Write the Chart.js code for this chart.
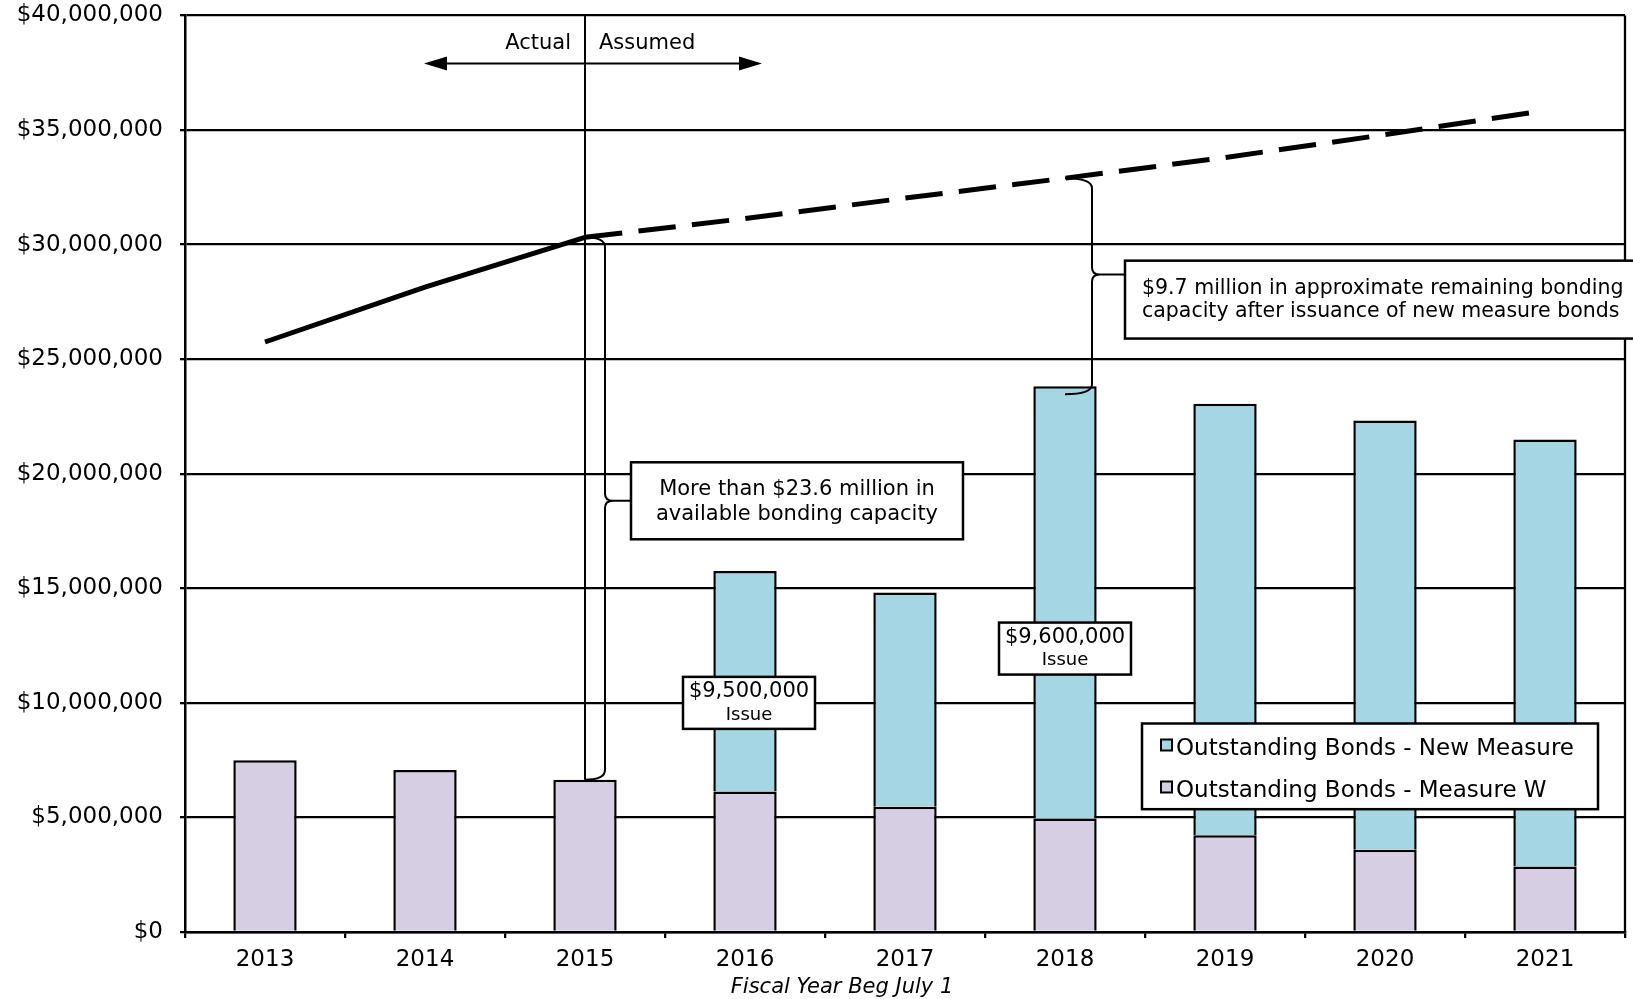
<!DOCTYPE html>
<html>
<head>
<meta charset="utf-8">
<script src="https://cdn.jsdelivr.net/npm/chart.js@4.4.1/dist/chart.umd.min.js"></script>
<style>
  html, body { margin: 0; padding: 0; background: #fff; }
</style>
</head>
<body>
<canvas id="chart" width="1633" height="999"></canvas>
<script>
// fiscal years and values (dollars)
const years = ['2013', '2014', '2015', '2016', '2017', '2018', '2019', '2020', '2021'];
const measureW = [7500000, 7070000, 6650000, 6130000, 5470000, 4950000, 4220000, 3590000, 2860000];
const newMeasure = [null, null, null, 9630000, 9350000, 18870000, 18830000, 18730000, 18640000];
const bondLimit = [25750000, 28150000, 30320000, 31140000, 32030000, 32900000, 33800000, 34800000, 35850000];
const issues = [['2016', '$9,500,000'], ['2018', '$9,600,000']];

const lavender = '#D6CEE2';
const blue = '#A5D6E3';
const FONT = "'DejaVu Sans', sans-serif";

function textBox(ctx, left, top, w, h) {
    ctx.fillStyle = '#fff';
    ctx.fillRect(left, top, w, h);
    ctx.lineWidth = 2.5;
    ctx.strokeStyle = '#000';
    ctx.strokeRect(left, top, w, h);
    ctx.fillStyle = '#000';
}

function brace(ctx, x0, yTop, xb, yBot, yMid, xTip) {
    ctx.beginPath();
    ctx.moveTo(x0, yTop);
    ctx.quadraticCurveTo(xb, yTop, xb, yTop + 10);
    ctx.lineTo(xb, yMid - 7);
    ctx.quadraticCurveTo(xb, yMid, xb + 8, yMid);
    ctx.lineTo(xTip, yMid);
    ctx.moveTo(xb + 8, yMid);
    ctx.quadraticCurveTo(xb, yMid, xb, yMid + 7);
    ctx.lineTo(xb, yBot - 10);
    ctx.quadraticCurveTo(xb, yBot, x0, yBot);
    ctx.stroke();
}

const annotations = {
    id: 'annotations',
    afterDatasetsDraw(chart) {
        const { ctx, chartArea: a, scales: { x, y } } = chart;
        ctx.save();
        ctx.strokeStyle = '#000';
        ctx.fillStyle = '#000';

        // right edge of plot
        ctx.lineWidth = 2.3;
        ctx.beginPath();
        ctx.moveTo(a.right, a.top);
        ctx.lineTo(a.right, a.bottom);
        ctx.stroke();

        // actual / assumed divider
        const x15 = x.getPixelForValue(2);
        const bar15 = y.getPixelForValue(measureW[2]);
        ctx.lineWidth = 2;
        ctx.beginPath();
        ctx.moveTo(x15, a.top);
        ctx.lineTo(x15, bar15);
        ctx.stroke();

        const arrowY = y.getPixelForValue(37900000);
        const xl = x.getPixelForValue(1) - 1;
        const xr = x.getPixelForValue(3) + 17;
        ctx.beginPath();
        ctx.moveTo(xl + 20, arrowY);
        ctx.lineTo(xr - 20, arrowY);
        ctx.stroke();
        ctx.beginPath();
        ctx.moveTo(xl, arrowY);
        ctx.lineTo(xl + 23, arrowY - 7);
        ctx.lineTo(xl + 23, arrowY + 7);
        ctx.closePath();
        ctx.moveTo(xr, arrowY);
        ctx.lineTo(xr - 23, arrowY - 7);
        ctx.lineTo(xr - 23, arrowY + 7);
        ctx.closePath();
        ctx.fill();

        ctx.font = '21px ' + FONT;
        ctx.textBaseline = 'alphabetic';
        ctx.textAlign = 'right';
        ctx.fillText('Actual', x15 - 14, arrowY - 15);
        ctx.textAlign = 'left';
        ctx.fillText('Assumed', x15 + 14, arrowY - 15);

        // brace at 2015
        const lim15 = y.getPixelForValue(bondLimit[2]);
        const box1Top = y.getPixelForValue(20500000);
        const box1Bot = y.getPixelForValue(17140000);
        const box1Mid = (box1Top + box1Bot) / 2;
        ctx.lineWidth = 2;
        brace(ctx, x15, lim15, x15 + 20, bar15, box1Mid, x15 + 46);
        textBox(ctx, x15 + 46, box1Top, 332, box1Bot - box1Top);
        ctx.font = '21px ' + FONT;
        ctx.textAlign = 'center';
        ctx.textBaseline = 'middle';
        ctx.fillText('More than $23.6 million in', x15 + 46 + 166, box1Top + 27);
        ctx.fillText('available bonding capacity', x15 + 46 + 166, box1Top + 52);

        // brace at 2018
        const x18 = x.getPixelForValue(5);
        const lim18 = y.getPixelForValue(bondLimit[5]);
        const bar18 = y.getPixelForValue(measureW[5] + newMeasure[5]) + 8;
        const mid18 = y.getPixelForValue(28700000);
        ctx.lineWidth = 2;
        ctx.strokeStyle = '#000';
        brace(ctx, x18, lim18, x18 + 27, bar18, mid18, x18 + 60);
        const box2Top = y.getPixelForValue(29300000);
        const box2Bot = y.getPixelForValue(25900000);
        textBox(ctx, x18 + 60, box2Top, chart.width - x18 - 55, box2Bot - box2Top);
        ctx.font = '20.5px ' + FONT;
        ctx.textAlign = 'left';
        ctx.textBaseline = 'middle';
        ctx.fillText('$9.7 million in approximate remaining bonding', x18 + 77, box2Top + 28);
        ctx.fillText('capacity after issuance of new measure bonds', x18 + 77, box2Top + 51);

        // issue labels
        const issueY = [10000000, 12370000];
        issues.forEach(([yr, amt], i) => {
            const cx = x.getPixelForValue(years.indexOf(yr)) + (i === 0 ? 4 : 0);
            const cy = y.getPixelForValue(issueY[i]);
            textBox(ctx, cx - 66, cy - 26, 132, 52);
            ctx.font = '21px ' + FONT;
            ctx.textAlign = 'center';
            ctx.textBaseline = 'middle';
            ctx.fillText(amt, cx, cy - 11);
            ctx.font = '18px ' + FONT;
            ctx.fillText('Issue', cx, cy + 12);
        });

        // legend
        const lgTop = y.getPixelForValue(9100000);
        const lgBot = y.getPixelForValue(5360000);
        const lgLeft = x.getPixelForValue(6) - 83;
        textBox(ctx, lgLeft, lgTop, 456, lgBot - lgTop);
        const items = [chart.data.datasets[2], chart.data.datasets[1]];
        ctx.font = '23px ' + FONT;
        ctx.textAlign = 'left';
        ctx.textBaseline = 'middle';
        items.forEach((ds, i) => {
            const cy = lgTop + 26 + i * 42;
            ctx.fillStyle = ds.backgroundColor;
            ctx.fillRect(lgLeft + 19, cy - 10, 11, 11);
            ctx.lineWidth = 2;
            ctx.strokeRect(lgLeft + 19, cy - 10, 11, 11);
            ctx.fillStyle = '#000';
            ctx.fillText(ds.label, lgLeft + 34, cy);
        });

        // axis title
        ctx.font = 'italic 21px ' + FONT;
        ctx.textAlign = 'center';
        ctx.fillText('Fiscal Year Beg July 1', 842, 988);

        ctx.restore();
    }
};

Chart.defaults.font.family = FONT;
Chart.defaults.color = '#000';

const ctx = document.getElementById('chart').getContext('2d');

const bondChart = new Chart(ctx, {
    type: 'bar',
    data: {
        labels: years,
        datasets: [
            {
                type: 'line',
                label: 'Bonding capacity',
                data: bondLimit,
                borderColor: '#000',
                borderWidth: 5,
                pointRadius: 0,
                fill: false,
                tension: 0,
                stack: 'limit',
                order: 0,
                segment: {
                    borderDash: c => c.p0DataIndex >= 2 ? [37.5, 16.3] : undefined
                }
            },
            {
                label: 'Outstanding Bonds - Measure W',
                data: measureW,
                backgroundColor: lavender,
                borderColor: '#000',
                borderWidth: 2.5,
                stack: 'bonds',
                order: 1
            },
            {
                label: 'Outstanding Bonds - New Measure',
                data: newMeasure,
                backgroundColor: blue,
                borderColor: '#000',
                borderWidth: 2.5,
                stack: 'bonds',
                order: 1
            }
        ]
    },
    options: {
        responsive: false,
        animation: false,
        layout: { padding: { top: 15.5, right: 8, left: 0, bottom: 0 } },
        datasets: { bar: { categoryPercentage: 1, barPercentage: 0.396 } },
        plugins: {
            legend: { display: false },
            tooltip: { enabled: false }
        },
        scales: {
            x: {
                stacked: true,
                grid: { offset: true, drawOnChartArea: false, color: '#000', lineWidth: 2.3, tickLength: 6 },
                border: { color: '#000', width: 2.5 },
                ticks: { font: { size: 23 }, padding: 8 },
                afterFit: s => { s.height = 67; s.paddingLeft = 0; s.paddingRight = 0; }
            },
            y: {
                stacked: true,
                min: 0,
                max: 40000000,
                grid: { color: '#000', lineWidth: 2.3, tickLength: 5 },
                border: { color: '#000', width: 2.5 },
                ticks: {
                    stepSize: 5000000,
                    font: { size: 23 },
                    padding: 17,
                    callback: v => '$' + v.toLocaleString('en-US')
                },
                afterFit: s => { s.width = 185; s.paddingTop = 0; s.paddingBottom = 0; }
            }
        }
    },
    plugins: [annotations]
});
</script>
</body>
</html>
